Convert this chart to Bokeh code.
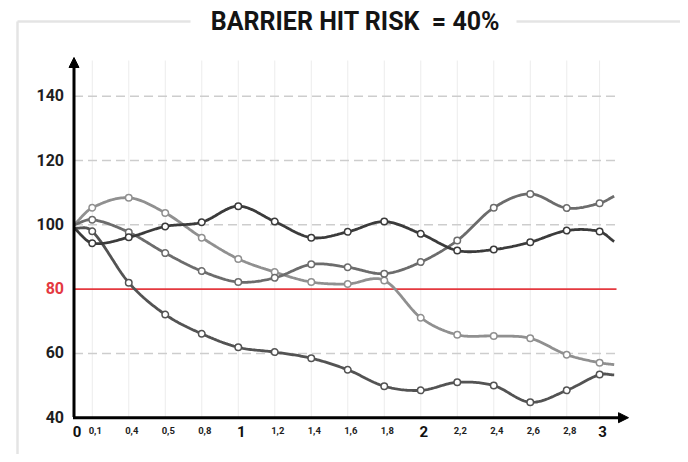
import numpy as np
from bokeh.plotting import figure
from bokeh.models import Arrow, NormalHead, Range1d
from bokeh.core.properties import value
from bokeh.embed import file_html
from bokeh.resources import INLINE

# ---------------- data ----------------
title_text = "BARRIER HIT RISK \u00a0= 40%"
tick_labels = ["0", "0,1", "0,4", "0,5", "0,8", "1", "1,2", "1,4", "1,6",
               "1,8", "2", "2,2", "2,4", "2,6", "2,8", "3"]
major_labels = ["0", "1", "2", "3"]
x_slot = [0, 0.5, 1.5, 2.5, 3.5, 4.5, 5.5, 6.5, 7.5, 8.5, 9.5, 10.5, 11.5, 12.5, 13.5, 14.4]
tail_slot = 14.8

y_ticks = [40, 60, 80, 100, 120, 140]
dashed_levels = [60, 100, 120, 140]
barrier = 80

series_a = [99, 94.3, 96.1, 99.5, 100.8, 105.8, 101.0, 96.0, 97.8, 101.0, 97.2, 92.0, 92.3, 94.6, 98.2, 97.9]
tail_a = 94.8
series_b = [100, 105.3, 108.4, 103.7, 96.0, 89.4, 85.3, 82.2, 81.6, 82.7, 71.1, 65.8, 65.4, 64.7, 59.6, 57.1]
tail_b = 56.5
series_c = [100, 101.6, 97.7, 91.2, 85.6, 82.2, 83.5, 87.7, 86.8, 84.8, 88.4, 95.1, 105.3, 109.6, 105.2, 106.7]
tail_c = 108.9
series_d = [99, 98.0, 82.0, 72.1, 66.1, 61.9, 60.4, 58.5, 54.9, 49.8, 48.5, 51.0, 50.0, 44.8, 48.5, 53.4]
tail_d = 53.3

colors = ["#3b3b3b", "#909090", "#6c6c6c", "#535353"]

# ---------------- layout helpers (canvas pixels -> data) ----------------
W, H = 680, 454
X0, XS = 73.5, 36.5
Y100, YS = 224.3, 3.215
def X(px):
    return (px - X0) / XS
def Y(py):
    return 100 - (py - Y100) / YS

def smooth(xs, ys, n=24):
    xs = np.asarray(xs, float); ys = np.asarray(ys, float)
    m = np.zeros_like(ys)
    m[0] = (ys[1] - ys[0]) / (xs[1] - xs[0])
    m[-1] = (ys[-1] - ys[-2]) / (xs[-1] - xs[-2])
    for i in range(1, len(xs) - 1):
        m[i] = (ys[i + 1] - ys[i - 1]) / (xs[i + 1] - xs[i - 1])
    ox, oy = [], []
    for i in range(len(xs) - 1):
        h = xs[i + 1] - xs[i]
        t = np.linspace(0, 1, n, endpoint=(i == len(xs) - 2))
        h00 = 2 * t**3 - 3 * t**2 + 1
        h10 = t**3 - 2 * t**2 + t
        h01 = -2 * t**3 + 3 * t**2
        h11 = t**3 - t**2
        ox.extend(xs[i] + t * h)
        oy.extend(h00 * ys[i] + h10 * h * m[i] + h01 * ys[i + 1] + h11 * h * m[i + 1])
    return ox, oy

p = figure(width=W, height=H, output_backend="svg", toolbar_location=None,
           x_range=Range1d(X(0), X(W)), y_range=Range1d(Y(H), Y(0)),
           min_border=0, x_axis_location=None, y_axis_location=None)
p.outline_line_color = None
p.background_fill_color = "white"
p.border_fill_color = "white"
for g in p.grid:
    g.visible = False

# outer light frame
frame_c = "#e4e4e4"
p.line([X(17), X(17)], [Y(21), Y(470)], line_color=frame_c, line_width=2.5)
p.line([X(17), X(190)], [Y(21), Y(21)], line_color=frame_c, line_width=2.5)
p.line([X(516), X(700)], [Y(21), Y(21)], line_color=frame_c, line_width=2.5)

# title
p.text(x=[X(355)], y=[Y(21)], text=[title_text], text_align="center", text_baseline="middle",
       text_font=value("Roboto"), text_font_style="bold", text_font_size="25px", text_color="#141414")

# vertical grid
for xs in x_slot[1:]:
    p.line([xs, xs], [40, Y(60)], line_color="#ececec", line_width=1)

# horizontal dashed grid
for lv in dashed_levels:
    p.line([0, X(616)], [lv, lv], line_color="#cdcdcd", line_width=1.5, line_dash="9 5")

# barrier line
p.line([0, X(616)], [barrier, barrier], line_color="#e4393f", line_width=1.6)

# series
for ser, tail, col in [(series_b, tail_b, colors[1]), (series_c, tail_c, colors[2]),
                       (series_d, tail_d, colors[3]), (series_a, tail_a, colors[0])]:
    sx, sy = smooth(x_slot + [tail_slot], ser + [tail])
    p.line(sx, sy, line_color=col, line_width=2.8)
    p.scatter(x_slot[1:], ser[1:], size=6.5, marker="circle", fill_color="white",
              line_color=col, line_width=1.5)

# axes with arrows
p.add_layout(Arrow(end=NormalHead(size=10, fill_color="black", line_color="black", line_width=1),
                   x_start=0, y_start=Y(416.5), x_end=0, y_end=Y(57),
                   line_color="black", line_width=3))
p.add_layout(Arrow(end=NormalHead(size=10, fill_color="black", line_color="black", line_width=1),
                   x_start=X(72.5), y_start=40, x_end=X(628), y_end=40,
                   line_color="black", line_width=3))

# y tick labels
y_cols = ["#e4393f" if v == barrier else "#1e1e1e" for v in y_ticks]
p.text(x=[0] * len(y_ticks), y=y_ticks, text=[str(v) for v in y_ticks], x_offset=-10, y_offset=-1,
       text_align="right", text_baseline="alphabetic", text_color=y_cols,
       text_font=value("Roboto"), text_font_style="bold", text_font_size="16px")

# x tick labels
small_x = [x for x, l in zip(x_slot, tick_labels) if l not in major_labels]
small_t = [l for l in tick_labels if l not in major_labels]
big_x = [x for x, l in zip(x_slot, tick_labels) if l in major_labels]
big_t = [l for l in tick_labels if l in major_labels]
p.text(x=small_x, y=[40] * len(small_x), text=small_t, x_offset=3, y_offset=13,
       text_align="center", text_baseline="alphabetic", text_color="#1e1e1e",
       text_font=value("Roboto"), text_font_style="bold", text_font_size="9.5px")
p.text(x=big_x, y=[40] * len(big_x), text=big_t, x_offset=3, y_offset=14,
       text_align="center", text_baseline="alphabetic", text_color="#111111",
       text_font=value("Roboto"), text_font_style="bold", text_font_size="15px")

open("out.html", "w").write(file_html(p, INLINE))
